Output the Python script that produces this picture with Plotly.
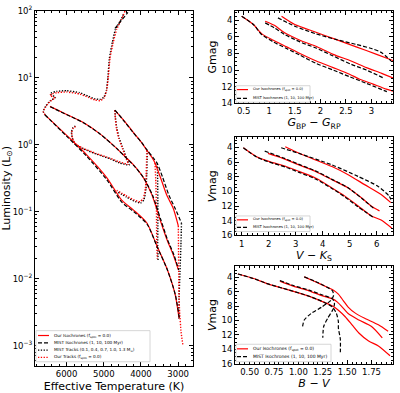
import numpy as np
import plotly.graph_objects as go

W, H = 400, 393
RED = "#ff0000"
FONT = "DejaVu Sans"

# ---------------- Left panel: HR diagram (Teff [K], log L [Lsun]) ----------------
our_iso1_teff = [4698, 4450, 4206, 3990, 3845, 3700, 3622, 3480, 3307, 3130, 2995]
our_iso1_logl = [0.517, 0.36, 0.188, 0.04, -0.077, -0.19, -0.27, -0.48, -0.75, -0.95, -1.21]
mist_iso1_teff = [4700, 4460, 4220, 3990, 3830, 3660, 3560, 3420, 3250, 3080, 2910]
mist_iso1_logl = [0.52, 0.36, 0.19, 0.04, -0.08, -0.20, -0.28, -0.48, -0.75, -0.95, -1.17]
mist_iso1_hi_teff = [4700, 4350]
mist_iso1_hi_logl = [1.74, 1.98]

our_iso10_teff = [6447, 5997, 5551, 5102, 4652, 4383, 4206, 3937, 3711, 3487, 3307, 3130, 2995]
our_iso10_logl = [0.575, 0.454, 0.333, 0.164, -0.053, -0.198, -0.295, -0.488, -0.74, -1.116, -1.406, -1.648, -1.865]
mist_iso10_teff = [6440, 5990, 5545, 5095, 4640, 4370, 4190, 3920, 3690, 3465, 3290, 3110, 2985]
mist_iso10_logl = [0.57, 0.45, 0.33, 0.16, -0.06, -0.21, -0.31, -0.50, -0.75, -1.12, -1.41, -1.65, -1.87]

our_iso100_teff = [6581, 5997, 5459, 4921, 4518, 4206, 3845, 3576, 3307, 3084, 2976]
our_iso100_logl = [0.449, 0.141, -0.149, -0.488, -0.826, -0.971, -1.164, -1.503, -1.841, -2.228, -2.590]
mist_iso100_teff = [6585, 6000, 5460, 4920, 4510, 4190, 3830, 3560, 3295, 3075, 2965]
mist_iso100_logl = [0.45, 0.13, -0.17, -0.52, -0.86, -1.00, -1.19, -1.53, -1.86, -2.24, -2.60]

# our tracks (red dotted)
our_t13_teff = [4429, 4518, 4652, 4742, 4832, 4878, 4921, 4994, 5102, 5236, 5416, 5640, 5997, 6266, 6401, 6447, 6312, 6447, 6554, 6627, 6581]
our_t13_logl = [2.0, 1.88, 1.73, 1.54, 1.30, 1.01, 0.82, 0.70, 0.66, 0.67, 0.71, 0.76, 0.79, 0.78, 0.76, 0.74, 0.70, 0.65, 0.575, 0.50, 0.45]
our_t10_teff = [4698, 4690, 4660, 4600, 4500, 4400, 4340, 4600, 4832, 5200, 5551, 5774, 5840, 5863, 5820, 5730]
our_t10_logl = [0.52, 0.40, 0.25, 0.10, -0.05, -0.20, -0.29, -0.25, -0.20, -0.13, -0.053, 0.02, 0.10, 0.19, 0.25, 0.285]
our_t07_teff = [3845, 3850, 3860, 3880, 3937, 4026, 4200, 4400, 4652]
our_t07_logl = [-0.08, -0.25, -0.45, -0.65, -0.80, -0.85, -0.82, -0.76, -0.68]
our_t04_teff = [3622, 3600, 3585, 3580, 3576, 3560]
our_t04_logl = [-0.27, -0.55, -0.90, -1.20, -1.50, -1.70]
our_t01_teff = [2995, 2990, 2985, 2980, 2960, 2920, 2870]
our_t01_logl = [-1.21, -1.50, -1.90, -2.20, -2.50, -2.80, -3.00]

# MIST tracks (black dotted)
mist_t13_teff = [4470, 4560, 4690, 4770, 4850, 4890, 4930, 5000, 5110, 5250, 5430, 5650, 6000, 6270, 6400, 6440, 6300, 6440, 6560, 6630, 6585]
mist_t13_logl = [1.95, 1.85, 1.72, 1.53, 1.29, 1.00, 0.81, 0.71, 0.68, 0.69, 0.73, 0.78, 0.81, 0.80, 0.78, 0.76, 0.71, 0.66, 0.58, 0.50, 0.45]
mist_t10_teff = [4700, 4685, 4650, 4585, 4480, 4380, 4320, 4580, 4820, 5190, 5545, 5770, 5845, 5870, 5825, 5735]
mist_t10_logl = [0.52, 0.40, 0.25, 0.10, -0.06, -0.21, -0.30, -0.27, -0.21, -0.14, -0.06, 0.01, 0.10, 0.19, 0.26, 0.29]
mist_t07_teff = [3830, 3835, 3845, 3865, 3920, 4010, 4190, 4390, 4640]
mist_t07_logl = [-0.08, -0.25, -0.45, -0.66, -0.82, -0.87, -0.84, -0.78, -0.70]
mist_t04_teff = [3560, 3550, 3545, 3545, 3550, 3540]
mist_t04_logl = [-0.28, -0.55, -0.90, -1.20, -1.50, -1.72]
mist_t01_teff = [2910, 2925, 2950, 2975, 2985]
mist_t01_logl = [-1.17, -1.50, -1.90, -2.30, -2.60]

# ---------------- Right panels: colour-magnitude diagrams ----------------
g_our1_c = [1.24, 1.5, 1.9, 2.3, 2.7, 3.1, 3.42]
g_our1_m = [3.5, 4.5, 5.4, 6.3, 7.2, 8.1, 8.85]
g_mist1_c = [1.17, 1.5, 1.9, 2.3, 2.7, 3.0, 3.2, 3.38]
g_mist1_m = [3.7, 4.7, 5.6, 6.3, 6.9, 7.4, 7.9, 8.9]
g_our10_c = [0.92, 1.1, 1.3, 1.6, 1.9, 2.25, 2.6, 2.9, 3.2, 3.42]
g_our10_m = [4.1, 4.6, 5.5, 6.4, 7.1, 8.1, 8.9, 9.7, 10.4, 10.95]
g_mist10_c = [0.92, 1.1, 1.3, 1.6, 1.9, 2.25, 2.6, 2.9, 3.25]
g_mist10_m = [4.3, 4.9, 5.7, 6.6, 7.3, 8.3, 9.3, 10.0, 11.0]
g_our100_c = [0.46, 0.69, 0.85, 1.08, 1.34, 1.6, 1.92, 2.25, 2.57, 2.77, 3.03, 3.29, 3.42]
g_our100_m = [3.5, 4.5, 5.6, 6.4, 7.2, 8.0, 8.9, 9.7, 10.5, 11.1, 11.7, 12.3, 12.55]
g_mist100_c = [0.46, 0.69, 0.85, 1.08, 1.34, 1.6, 1.92, 2.25, 2.57, 2.9, 3.3]
g_mist100_m = [3.5, 4.5, 5.7, 6.6, 7.4, 8.2, 9.2, 10.0, 10.8, 11.6, 12.6]

vk_our1_c = [2.61, 3.00, 3.73, 4.34, 4.94, 5.55, 6.16, 6.52]
vk_our1_m = [3.91, 4.58, 5.70, 6.60, 7.72, 9.07, 10.41, 11.53]
vk_mist1_c = [2.46, 3.12, 4.34, 5.31, 6.04, 6.46, 6.52]
vk_mist1_m = [4.04, 4.81, 6.38, 7.95, 9.29, 10.64, 11.09]
vk_our10_c = [1.97, 2.52, 3.12, 3.73, 4.34, 4.94, 5.43, 5.79, 6.10]
vk_our10_m = [4.81, 5.48, 6.38, 7.27, 8.39, 9.52, 10.86, 11.98, 12.65]
vk_mist10_c = [1.85, 2.52, 3.12, 3.73, 4.34, 4.94, 5.43, 5.92]
vk_mist10_m = [4.49, 5.40, 6.30, 7.20, 8.35, 9.50, 10.90, 12.43]
vk_our100_c = [1.06, 1.55, 2.03, 2.64, 3.12, 3.73, 4.34, 4.82, 5.31, 5.79, 6.16, 6.55]
vk_our100_m = [4.04, 5.26, 5.93, 6.60, 7.27, 8.17, 9.52, 10.64, 11.98, 13.33, 13.91, 15.0]
vk_mist100_c = [1.06, 1.55, 2.03, 2.64, 3.12, 3.73, 4.34, 4.82, 5.31, 5.85]
vk_mist100_m = [4.04, 5.30, 6.00, 6.70, 7.40, 8.30, 9.60, 10.75, 12.10, 13.50]

bv_our1_c = [1.06, 1.18, 1.29, 1.36, 1.41, 1.46, 1.51, 1.58, 1.68, 1.82, 1.92]
bv_our1_m = [3.94, 4.66, 5.34, 5.79, 6.33, 7.23, 8.13, 8.94, 9.70, 10.6, 11.5]
bv_mist1_c = [1.06, 1.18, 1.29, 1.35, 1.36, 1.33, 1.24, 1.13, 1.06, 1.04]
bv_mist1_m = [3.94, 4.62, 5.34, 5.88, 6.55, 7.23, 8.13, 9.03, 9.93, 11.05]
bv_our10_c = [0.81, 0.94, 1.11, 1.24, 1.35, 1.40, 1.45, 1.51, 1.62, 1.75, 1.86]
bv_our10_m = [4.53, 5.2, 5.88, 6.55, 7.0, 7.45, 8.13, 9.03, 9.93, 10.83, 12.4]
bv_mist10_c = [0.81, 0.94, 1.11, 1.24, 1.35, 1.37, 1.35, 1.30, 1.26, 1.25]
bv_mist10_m = [4.44, 5.11, 5.79, 6.42, 7.0, 7.68, 8.58, 9.7, 10.8, 12.4]
bv_our100_c = [0.38, 0.54, 0.67, 0.84, 1.01, 1.14, 1.26, 1.35, 1.41, 1.48, 1.55, 1.62, 1.72, 1.82, 1.94]
bv_our100_m = [3.54, 4.17, 4.84, 5.52, 6.19, 6.78, 7.45, 7.99, 8.58, 9.48, 10.6, 11.73, 12.85, 13.53, 14.9]
bv_mist100_c = [0.38, 0.54, 0.67, 0.84, 1.01, 1.14, 1.26, 1.35, 1.39, 1.41, 1.41, 1.43, 1.43]
bv_mist100_m = [3.54, 4.17, 4.84, 5.52, 6.19, 6.78, 7.45, 8.13, 9.03, 10.15, 11.05, 12.6, 14.4]

fig = go.Figure()

def L(v):
    return list(10 ** np.array(v))

def add(x, y, color, dash, ax, width=1.2, shape="spline", smoothing=0.7):
    fig.add_trace(go.Scatter(x=x, y=y, mode="lines", showlegend=False,
                             line=dict(color=color, dash=dash, width=width, shape=shape, smoothing=smoothing),
                             xaxis="x" + ax, yaxis="y" + ax, hoverinfo="skip"))

DASH = "4px,2px"
DOT = "1.3px,1.5px"

for t, l in [(mist_t13_teff, mist_t13_logl), (mist_t10_teff, mist_t10_logl), (mist_t07_teff, mist_t07_logl),
             (mist_t04_teff, mist_t04_logl), (mist_t01_teff, mist_t01_logl)]:
    add(t, L(l), "black", DOT, "", 1.4, "spline", 0.4)
for t, l in [(our_t13_teff, our_t13_logl), (our_t10_teff, our_t10_logl), (our_t07_teff, our_t07_logl),
             (our_t04_teff, our_t04_logl), (our_t01_teff, our_t01_logl)]:
    add(t, L(l), RED, DOT, "", 1.4, "spline", 0.4)
for t, l in [(our_iso1_teff, our_iso1_logl), (our_iso10_teff, our_iso10_logl), (our_iso100_teff, our_iso100_logl)]:
    add(t, L(l), RED, "solid", "")
for t, l in [(mist_iso1_teff, mist_iso1_logl), (mist_iso1_hi_teff, mist_iso1_hi_logl),
             (mist_iso10_teff, mist_iso10_logl), (mist_iso100_teff, mist_iso100_logl)]:
    add(t, L(l), "black", DASH, "")

for ax, sets in [("2", [(g_our1_c, g_our1_m, g_mist1_c, g_mist1_m), (g_our10_c, g_our10_m, g_mist10_c, g_mist10_m), (g_our100_c, g_our100_m, g_mist100_c, g_mist100_m)]),
                 ("3", [(vk_our1_c, vk_our1_m, vk_mist1_c, vk_mist1_m), (vk_our10_c, vk_our10_m, vk_mist10_c, vk_mist10_m), (vk_our100_c, vk_our100_m, vk_mist100_c, vk_mist100_m)]),
                 ("4", [(bv_our1_c, bv_our1_m, bv_mist1_c, bv_mist1_m), (bv_our10_c, bv_our10_m, bv_mist10_c, bv_mist10_m), (bv_our100_c, bv_our100_m, bv_mist100_c, bv_mist100_m)])]:
    for oc, om, mc, mm in sets:
        add(oc, om, RED, "solid", ax)
        add(mc, mm, "black", DASH, ax)

def px(x):
    return x / W

def py(y):
    return 1 - y / H

tickfont = dict(family=FONT, size=8.5, color="black")
tfont = dict(family=FONT, size=11, color="black")
common = dict(showline=True, linecolor="black", linewidth=1, mirror="allticks", ticks="inside",
              ticklen=4, tickwidth=0.8, tickcolor="black", showgrid=False, zeroline=False,
              tickfont=tickfont, ticklabeloverflow="allow")
minor = dict(ticks="inside", ticklen=2, tickwidth=0.6, tickcolor="black", showgrid=False)

logminor = [k * 10.0 ** e for e in range(-4, 2) for k in range(2, 10)]
fig.update_layout(
    width=W, height=H, autosize=False, margin=dict(l=0, r=0, t=0, b=0),
    paper_bgcolor="white", plot_bgcolor="white",
    xaxis=dict(domain=[px(35), px(193)], anchor="y", range=[6850, 2600], tickvals=[6000, 5000, 4000, 3000],
               minor=dict(minor, dtick=200), title=dict(text="Effective Temperature (K)", font=tfont, standoff=4), **common),
    yaxis=dict(domain=[py(370), py(5)], anchor="x", type="log", range=[-3.3, 2.003],
               tickvals=[1e-3, 1e-2, 1e-1, 1, 10, 100],
               ticktext=["10<sup>−3</sup>", "10<sup>−2</sup>", "10<sup>−1</sup>", "10<sup>0</sup>", "10<sup>1</sup>", "10<sup>2</sup>"],
               minor=dict(minor, tickvals=logminor), title=dict(text="Luminosity (L<sub>⊙</sub>)", font=tfont, standoff=2), **common),
    xaxis2=dict(domain=[px(235), px(393)], anchor="y2", range=[0.33, 3.42], dtick=0.5, tick0=0.5,
                minor=dict(minor, dtick=0.1), title=dict(text="<i>G</i><sub>BP</sub> − <i>G</i><sub>RP</sub>", font=tfont, standoff=2), **common),
    yaxis2=dict(domain=[py(100), py(5)], anchor="x2", range=[14, 2.85], dtick=2, tick0=0,
                minor=dict(minor, dtick=0.5), title=dict(text="Gmag", font=tfont, standoff=2), **common),
    xaxis3=dict(domain=[px(235), px(393)], anchor="y3", range=[0.75, 6.6], dtick=1, tick0=0,
                minor=dict(minor, dtick=0.2), title=dict(text="<i>V</i> − <i>K</i><sub>S</sub>", font=tfont, standoff=2), **common),
    yaxis3=dict(domain=[py(236), py(135)], anchor="x3", range=[16, 2.6], dtick=2, tick0=0,
                minor=dict(minor, dtick=0.5), title=dict(text="<i>V</i>mag", font=tfont, standoff=2), **common),
    xaxis4=dict(domain=[px(235), px(393)], anchor="y4", range=[0.35, 1.97], dtick=0.25, tick0=0, tickformat=".2f",
                minor=dict(minor, dtick=0.05), title=dict(text="<i>B</i> − <i>V</i>", font=tfont, standoff=2), **common),
    yaxis4=dict(domain=[py(368), py(268)], anchor="x4", range=[16, 2.5], dtick=2, tick0=0,
                minor=dict(minor, dtick=0.5), title=dict(text="<i>V</i>mag", font=tfont, standoff=2), **common),
)

shapes = []
annos = []

def legend(x0, y0, x1, y1, entries, fs, h0, h1, tx):
    shapes.append(dict(type="rect", xref="paper", yref="paper", x0=px(x0), x1=px(x1), y0=py(y1), y1=py(y0),
                       line=dict(color="#cccccc", width=0.8), fillcolor="white", layer="above"))
    for (yy, label, color, dash) in entries:
        shapes.append(dict(type="line", xref="paper", yref="paper", x0=px(h0), x1=px(h1), y0=py(yy), y1=py(yy),
                           line=dict(color=color, width=1.2, dash=dash), layer="above"))
        annos.append(dict(xref="paper", yref="paper", x=px(tx), y=py(yy), text=label, showarrow=False,
                          xanchor="left", yanchor="middle", font=dict(family=FONT, size=fs, color="black")))

lab_our = "Our Isochrones (f<sub>spot</sub> = 0.0)"
lab_mist = "MIST Isochrones (1, 10, 100 Myr)"
legend(36, 334, 150, 366, [(339, lab_our, RED, "solid"), (346.5, lab_mist, "black", DASH),
                           (354, "MIST Tracks (0.1, 0.4, 0.7, 1.0, 1.3 M<sub>⊙</sub>)", "black", DOT),
                           (361.5, "Our Tracks (f<sub>spot</sub> = 0.0)", RED, DOT)], 4.2, 38, 49, 52)
legend(236, 82, 310, 99, [(86, lab_our, RED, "solid"), (95, lab_mist, "black", DASH)], 3.7, 237, 248, 251)
legend(236, 216, 310, 232, [(220, lab_our, RED, "solid"), (227.7, lab_mist, "black", DASH)], 3.7, 237, 248, 251)
legend(236, 348, 331, 366, [(352.7, lab_our, RED, "solid"), (360.7, lab_mist, "black", DASH)], 4.5, 237, 248, 251)

fig.update_layout(shapes=shapes, annotations=annos)
fig.write_html("out.html", config={"displayModeBar": False},
               post_script="document.body.style.margin='0';document.body.style.overflow='hidden';")
